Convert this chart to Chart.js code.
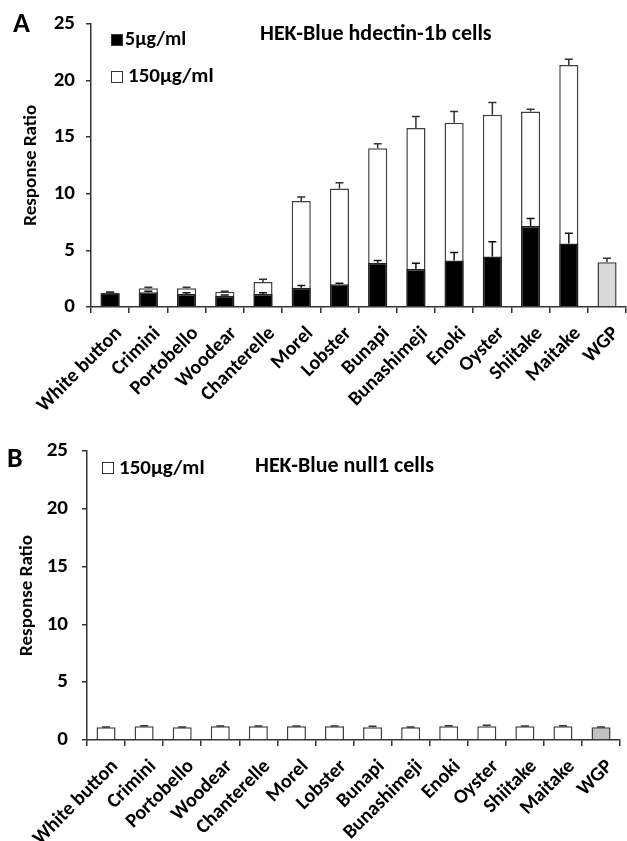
<!DOCTYPE html>
<html>
<head>
<meta charset="utf-8">
<script src="https://cdn.jsdelivr.net/npm/chart.js@4.4.1/dist/chart.umd.min.js"></script>
<style>
  html, body { margin: 0; padding: 0; overflow: hidden; background: #fff; }
  body { width: 627px; height: 841px; position: relative; font-family: Carlito, "Open Sans", sans-serif; font-weight: bold; color: #000; }
  .wrap { position: absolute; left: 0; }
  #wrapA { top: 0; width: 633px; height: 420px; }
  #wrapB { top: 420px; width: 627px; height: 421px; }
  .txt { position: absolute; white-space: nowrap; line-height: 1; }
  .sq { position: absolute; width: 10px; height: 10px; border: 1px solid #333; }
</style>
</head>
<body>
<div class="wrap" id="wrapA"><canvas id="chartA"></canvas></div>
<div class="wrap" id="wrapB"><canvas id="chartB"></canvas></div>

<!-- panel A labels -->
<div class="txt" style="left:13px;top:9px;font-size:28px;">A</div>
<div class="sq" style="left:111px;top:34px;background:#000;"></div>
<div class="txt" style="left:125px;top:28px;font-size:20px;">5µg/ml</div>
<div class="sq" style="left:111px;top:71px;background:#fff;"></div>
<div class="txt" style="left:128px;top:65px;font-size:21px;">150µg/ml</div>
<div class="txt" style="left:260px;top:22px;font-size:22px;">HEK-Blue hdectin-1b cells</div>

<!-- panel B labels -->
<div class="txt" style="left:7px;top:444px;font-size:28px;">B</div>
<div class="sq" style="left:102px;top:462px;background:#fff;"></div>
<div class="txt" style="left:119px;top:457px;font-size:21px;">150µg/ml</div>
<div class="txt" style="left:255px;top:454px;font-size:22px;">HEK-Blue null1 cells</div>

<script>
// categorie
const mushrooms = ["White button", "Crimini", "Portobello", "Woodear", "Chanterelle", "Morel", "Lobster",
  "Bunapi", "Bunashimeji", "Enoki", "Oyster", "Shiitake", "Maitake", "WGP"];

// pannello A: hdectin-1b
const dose5 = [1.2, 1.3, 1.15, 1.0, 1.15, 1.7, 2.0, 3.9, 3.35, 4.1, 4.45, 7.15, 5.6, null];
const dose5Err = [0.1, 0.1, 0.1, 0.05, 0.1, 0.2, 0.1, 0.2, 0.5, 0.7, 1.3, 0.65, 0.9, null];
const dose150 = [1.25, 1.65, 1.65, 1.35, 2.2, 9.35, 10.45, 14.0, 15.8, 16.25, 16.95, 17.25, 21.35, 3.95];
const dose150Err = [0.05, 0.1, 0.1, 0.05, 0.25, 0.35, 0.5, 0.4, 1.0, 1.0, 1.1, 0.2, 0.5, 0.35];

// pannello B: null1
const null150 = [1.1, 1.2, 1.1, 1.2, 1.2, 1.2, 1.2, 1.1, 1.1, 1.2, 1.2, 1.2, 1.2, 1.1];
const null150Err = [0.02, 0.03, 0.03, 0.02, 0.02, 0.02, 0.02, 0.08, 0.02, 0.03, 0.08, 0.02, 0.03, 0.03];

const yTicks = [0, 5, 10, 15, 20, 25];

const fontFam = 'Carlito, "Open Sans", sans-serif';

// barre d'errore (solo verso l'alto)
const errorBars = {
  id: "errorBars",
  afterDatasetsDraw(chart) {
    const ctx = chart.ctx;
    const yScale = chart.scales.y;
    chart.data.datasets.forEach((ds, i) => {
      if (!ds.errors) return;
      const meta = chart.getDatasetMeta(i);
      ctx.save();
      ctx.strokeStyle = ds.errorColor || "#333";
      ctx.lineWidth = 1.5;
      meta.data.forEach((bar, j) => {
        const v = ds.data[j], e = ds.errors[j];
        if (v == null || e == null) return;
        const top = yScale.getPixelForValue(v + e);
        ctx.beginPath();
        ctx.moveTo(bar.x, bar.y);
        ctx.lineTo(bar.x, top);
        ctx.moveTo(bar.x - 4, top);
        ctx.lineTo(bar.x + 4, top);
        ctx.stroke();
      });
      ctx.restore();
    });
  }
};

function makeOptions(padTop, yWidth, xHeight, titlePad, tickPad) {
  return {
    responsive: true,
    maintainAspectRatio: false,
    animation: false,
    layout: { padding: { top: padTop, left: 0, right: 0, bottom: 0 } },
    plugins: { legend: { display: false }, tooltip: { enabled: false } },
    scales: {
      x: {
        stacked: true,
        offset: true,
        afterFit: s => { s.height = xHeight; },
        grid: { offset: true, drawOnChartArea: false, tickLength: 6, color: "#333", lineWidth: 1.5 },
        border: { color: "#333", width: 1.5 },
        ticks: { color: "#000", minRotation: 45, maxRotation: 45, padding: 9, labelOffset: 9, autoSkip: false,
          font: { family: fontFam, size: 20, weight: "bold" } }
      },
      y: {
        stacked: false,
        min: 0, max: 25,
        afterFit: s => { s.width = yWidth; },
        afterBuildTicks: s => { s.ticks = yTicks.map(v => ({ value: v })); },
        grid: { drawOnChartArea: false, tickLength: 5, color: "#333", lineWidth: 1.5 },
        border: { color: "#333", width: 1.5 },
        ticks: { color: "#000", padding: tickPad, font: { family: fontFam, size: 21, weight: "bold" } },
        title: { display: true, text: "Response Ratio", color: "#000", padding: { top: titlePad, bottom: 0 },
          font: { family: fontFam, size: 19, weight: "bold" } }
      }
    }
  };
}

new Chart(document.getElementById("chartA"), {
  type: "bar",
  data: {
    labels: mushrooms,
    datasets: [
      {
        label: "5µg/ml", data: dose5, errors: dose5Err, errorColor: "#111",
        backgroundColor: "#000", borderColor: "#222", borderWidth: 1.5,
        barPercentage: 0.5, categoryPercentage: 1
      },
      {
        label: "150µg/ml", data: dose150, errors: dose150Err,
        backgroundColor: mushrooms.map(m => m === "WGP" ? "#d9d9d9" : "#fff"),
        borderColor: "#404040", borderWidth: 1.5,
        barPercentage: 0.5, categoryPercentage: 1
      }
    ]
  },
  options: makeOptions(21, 91, 113, 20, 11),
  plugins: [errorBars]
});

new Chart(document.getElementById("chartB"), {
  type: "bar",
  data: {
    labels: mushrooms,
    datasets: [
      {
        label: "150µg/ml", data: null150, errors: null150Err,
        backgroundColor: mushrooms.map(m => m === "WGP" ? "#c0c0c0" : "#fff"),
        borderColor: "#404040", borderWidth: 1.5,
        barPercentage: 0.5, categoryPercentage: 1
      }
    ]
  },
  options: makeOptions(31, 87, 101, 16, 14),
  plugins: [errorBars]
});
</script>
</body>
</html>
